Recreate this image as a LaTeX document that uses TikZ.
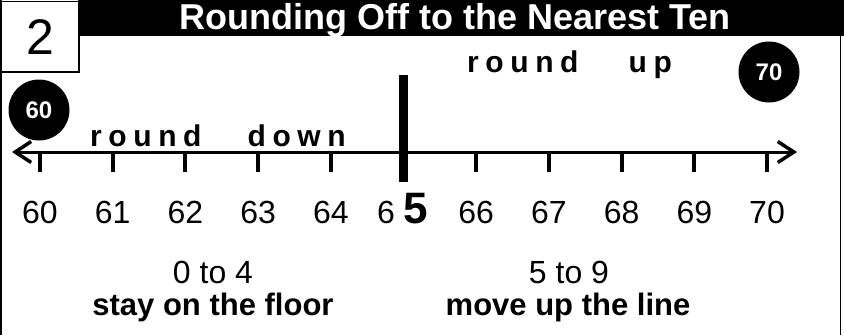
\documentclass[tikz,border=0pt]{standalone}
\usepackage{fontspec}
\setmainfont{Liberation Sans}
\newfontfamily\spacedfont[LetterSpace=22]{Liberation Sans}
\usetikzlibrary{arrows.meta}
\begin{document}
\begin{tikzpicture}[x=1pt,y=-1pt,
  numlbl/.style={font=\fontsize{32}{32}\selectfont, anchor=base, inner sep=0pt},
  tickmark/.style={line width=4pt},
  bigdot/.style={circle, fill=black, text=white, minimum size=61pt, inner sep=0pt,
    font=\fontsize{24}{24}\selectfont\bfseries},
  spaced/.style={font=\fontsize{30}{30}\selectfont\spacedfont\bfseries, anchor=base west, inner sep=0pt},
  rangetxt/.style={font=\fontsize{32}{32}\selectfont, anchor=base, inner sep=0pt},
  ruletxt/.style={font=\fontsize{31}{31}\selectfont\bfseries, anchor=base, inner sep=0pt}]
\useasboundingbox (0,0) rectangle (844,335);
\fill[white] (0,0) rectangle (844,335);
% title bar
\fill[black] (78,0) rectangle (844,35.5);
\node[font=\fontsize{36}{36}\selectfont\bfseries, text=white, anchor=base, inner sep=0pt] (title) at (455,29.5) {Rounding Off to the Nearest Ten};
% frame
\draw[line width=1.5pt] (0.75,0) -- (0.75,335);
\draw[line width=1.5pt] (840.5,35) -- (840.5,335);
% number box
\node[draw, line width=1.5pt, fill=white, minimum width=77.5pt, minimum height=70.5pt, anchor=north west, inner sep=0pt,
  font=\fontsize{50}{50}\selectfont] (numbox) at (0.75,0.75) {2};
% circles
\node[bigdot] (c60) at (39,110) {60};
\node[bigdot] (c70) at (769,72) {70};
% number line
\coordinate (L) at (12,152);
\coordinate (R) at (797,152);
\draw[line width=3pt, {Straight Barb[length=16pt,width=21pt,line width=3.5pt]}-{Straight Barb[length=16pt,width=21pt,line width=3.5pt]}] (L) -- (R);
\foreach \i/\t in {0/60,1/61,2/62,3/63,4/64,6/66,7/67,8/68,9/69,10/70}{
  \coordinate (t\i) at ({40+72.7*\i},152);
  \draw[tickmark] (t\i) -- ++(0,20);
  \node[numlbl] (n\i) at ({40+72.7*\i},223) {\t};
}
\node[numlbl] (n5a) at (386,223) {6};
\node[numlbl, font=\fontsize{44}{44}\selectfont\bfseries] (n5b) at (416,223) {5};
% middle bar
\fill[black] (398.5,75) rectangle (407.5,182);
% spaced labels
\node[spaced] (rdown) at (90,146) {round\hspace{46pt}down};
\node[spaced] (rup) at (467,72) {round\hspace{50pt}up};
% bottom text
\node[rangetxt] (r1) at (213,283) {0 to 4};
\node[ruletxt] (s1) at (213,315) {stay on the floor};
\node[rangetxt] (r2) at (569,283) {5 to 9};
\node[ruletxt] (s2) at (568,315) {move up the line};
\end{tikzpicture}
\end{document}
